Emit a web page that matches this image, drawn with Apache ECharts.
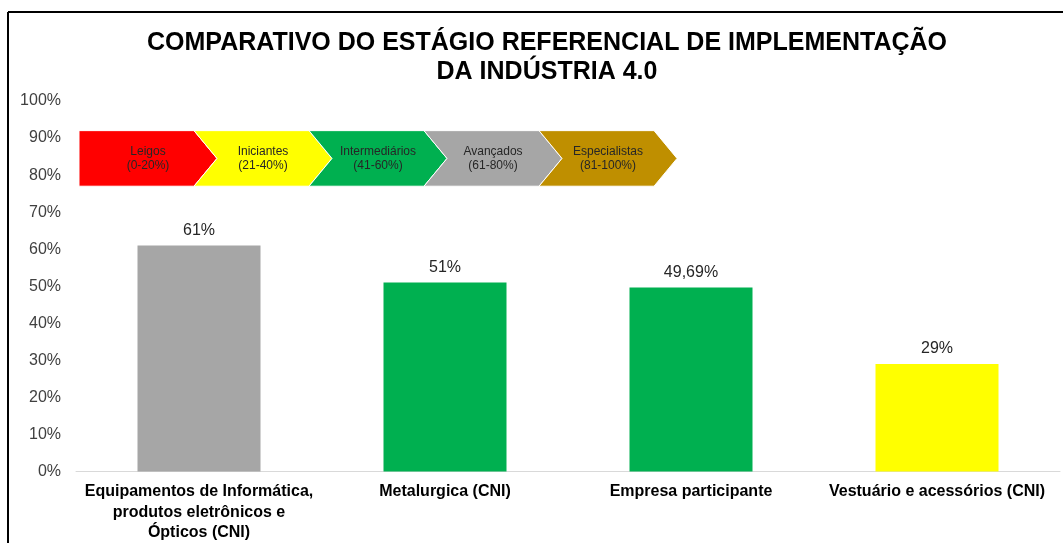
<!DOCTYPE html>
<html>
<head>
<meta charset="utf-8">
<script src="https://cdn.jsdelivr.net/npm/echarts@6/dist/echarts.min.js"></script>
<style>
  html, body { margin: 0; padding: 0; background: #fff; }
  #chart { width: 1063px; height: 543px; }
</style>
</head>
<body>
<div id="chart"></div>
<script>
// dados do grafico
var categorias = [
    'Equipamentos de Informática,\nprodutos eletrônicos e\nÓpticos (CNI)',
    'Metalurgica (CNI)',
    'Empresa participante',
    'Vestuário e acessórios (CNI)'
];
var valores = [61, 51, 49.69, 29];
var coresBarras = ['#a6a6a6', '#00b050', '#00b050', '#ffff00'];

// escala dos estagios (setas)
var estagios = ['Leigos', 'Iniciantes', 'Intermediários', 'Avançados', 'Especialistas'];
var faixas = ['(0-20%)', '(21-40%)', '(41-60%)', '(61-80%)', '(81-100%)'];
var coresEstagios = ['#ff0000', '#ffff00', '#00b050', '#a6a6a6', '#bf8f00'];

var myChart = echarts.init(document.getElementById('chart'));

var fonte = '"Liberation Sans", Arial, sans-serif';

var option = {
    animation: false,
    title: {
        text: 'COMPARATIVO DO ESTÁGIO REFERENCIAL DE IMPLEMENTAÇÃO\nDA INDÚSTRIA 4.0',
        left: 542,
        textAlign: 'center',
        top: 24,
        textStyle: {
            fontFamily: fonte,
            fontSize: 25,
            fontWeight: 'bold',
            color: '#000',
            lineHeight: 29
        }
    },
    graphic: [
        { type: 'line', shape: { x1: 8, y1: 12, x2: 1063, y2: 12 }, style: { stroke: '#000', lineWidth: 2 } },
        { type: 'line', shape: { x1: 8, y1: 12, x2: 8, y2: 543 }, style: { stroke: '#000', lineWidth: 2 } }
    ],
    grid: { left: 76, right: 3, top: 101, bottom: 71 },
    xAxis: [
        {
            type: 'category',
            data: categorias,
            axisTick: { show: false },
            axisLine: { lineStyle: { color: '#d9d9d9', width: 1 } },
            axisLabel: {
                interval: 0,
                margin: 10,
                fontFamily: fonte,
                fontSize: 16,
                fontWeight: 'bold',
                color: '#000',
                lineHeight: 20.5
            }
        },
        { type: 'value', min: -0.026, max: 8.53, show: false }
    ],
    yAxis: {
        type: 'value',
        min: 0,
        max: 100,
        interval: 10,
        splitLine: { show: false },
        axisLine: { show: false },
        axisTick: { show: false },
        axisLabel: {
            formatter: '{value}%',
            margin: 15,
            fontFamily: fonte,
            fontSize: 16,
            color: '#404040'
        }
    },
    series: [
        {
            type: 'bar',
            barWidth: '50%',
            data: valores.map(function (v, i) {
                return { value: v, itemStyle: { color: coresBarras[i] } };
            }),
            label: {
                show: true,
                position: 'top',
                distance: 7,
                fontFamily: fonte,
                fontSize: 16,
                color: '#262626',
                formatter: function (p) {
                    return String(p.value).replace('.', ',') + '%';
                }
            }
        },
        {
            type: 'custom',
            xAxisIndex: 1,
            data: estagios.map(function (n, i) { return [i]; }),
            renderItem: function (params, api) {
                var i = api.value(0);
                var topo = 92, base = 77, meio = 84.5, ponta = 0.2;
                var pts = [
                    [i, topo], [i + 1, topo], [i + 1 + ponta, meio], [i + 1, base], [i, base]
                ];
                if (i > 0) pts.push([i + ponta, meio]);
                var c = pts.map(function (p) { return api.coord(p); });
                var centro = api.coord([i + 0.6, meio]);
                return {
                    type: 'group',
                    children: [
                        {
                            type: 'polygon',
                            shape: { points: c },
                            style: { fill: coresEstagios[params.dataIndex], stroke: '#fff', lineWidth: 1 }
                        },
                        {
                            type: 'text',
                            x: centro[0],
                            y: centro[1],
                            style: {
                                text: estagios[params.dataIndex] + '\n' + faixas[params.dataIndex],
                                align: 'center',
                                verticalAlign: 'middle',
                                fontFamily: fonte,
                                fontSize: 12,
                                lineHeight: 14,
                                fill: '#262626'
                            }
                        }
                    ]
                };
            },
            z: 5
        }
    ]
};

myChart.setOption(option);
</script>
</body>
</html>
